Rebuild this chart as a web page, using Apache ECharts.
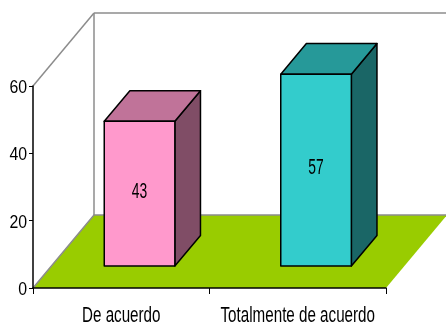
<!DOCTYPE html>
<html>
<head>
<meta charset="utf-8">
<script src="https://cdn.jsdelivr.net/npm/echarts@6/dist/echarts.min.js"></script>
<style>
  html, body { margin: 0; padding: 0; background: #fff; }
  #chart { width: 446px; height: 325px; }
</style>
</head>
<body>
<div id="chart"></div>
<script>
// Survey answers and their percentages
const categories = ['De acuerdo', 'Totalmente de acuerdo'];
const values = [43, 57];
const yTicks = [0, 20, 40, 60];

// Face colours of each box: front, top, side
const palette = [
  { front: '#FF99CC', top: '#C07399', side: '#804D66' },
  { front: '#33CCCC', top: '#269999', side: '#1A6666' }
];

const FONT = "'Liberation Sans', Arial, sans-serif";
// Condensed text styles: font size and horizontal squeeze
const TXT_AXIS = { size: 18, sx: 0.88 };
const TXT_CAT = { size: 22, sx: 0.69 };
const TXT_VAL = { size: 22, sx: 0.63 };
// Perspective offset of the back wall, in pixels
const DX = 61, DY = -73;
// Boxes sit between these fractions of the floor depth
const D0 = 0.3, D1 = 0.72;
const BAR_FRAC = 0.4;

const chart = echarts.init(document.getElementById('chart'));

function narrowText(x, y, text, align, st) {
  return {
    type: 'text',
    x: x,
    y: y,
    scaleX: st.sx,
    style: {
      text: text,
      fill: '#000',
      font: st.size + 'px ' + FONT,
      align: align,
      verticalAlign: 'middle'
    }
  };
}

function renderScene(params, api) {
  const p0 = api.coord([0, 0]);
  const pTop = api.coord([0, yTicks[yTicks.length - 1]]);
  const band = api.size([1, 0])[0];
  const xl = p0[0] - band / 2;
  const xr = p0[0] + band * (categories.length - 0.5);
  const yb = p0[1];
  const yt = pTop[1];
  const gray = { stroke: '#8C8C8C', lineWidth: 1.5 };
  const children = [
    {
      type: 'polygon',
      shape: { points: [[xl, yb], [xr, yb], [xr + DX, yb + DY], [xl + DX, yb + DY]] },
      style: { fill: '#99CC00', stroke: null }
    },
    { type: 'polyline', shape: { points: [[xl, yb], [xl + DX, yb + DY], [xr + DX, yb + DY]] }, style: Object.assign({ fill: null }, gray) },
    { type: 'line', shape: { x1: xl, y1: yt, x2: xl + DX, y2: yt + DY }, style: gray },
    { type: 'line', shape: { x1: xl + DX, y1: yt + DY, x2: xl + DX, y2: yb + DY }, style: gray },
    { type: 'line', shape: { x1: xl + DX, y1: yt + DY, x2: api.getWidth(), y2: yt + DY }, style: gray }
  ];
  // value axis labels
  yTicks.forEach(function (t) {
    const p = api.coord([0, t]);
    children.push(narrowText(xl - 6, p[1] + 2, String(t), 'right', TXT_AXIS));
  });
  // category labels
  categories.forEach(function (name, i) {
    const p = api.coord([i, 0]);
    children.push(narrowText(p[0], yb + 28, name, 'center', TXT_CAT));
  });
  return { type: 'group', children: children };
}

function renderBox(params, api) {
  const idx = api.value(0);
  const val = api.value(1);
  const base = api.coord([idx, 0]);
  const topP = api.coord([idx, val]);
  const band = api.size([1, 0])[0];
  const w = band * BAR_FRAC;
  const fx = base[0] + D0 * DX - w / 2;
  const fyB = base[1] + D0 * DY;
  const fyT = topP[1] + D0 * DY;
  const ddx = (D1 - D0) * DX, ddy = (D1 - D0) * DY;
  const c = palette[idx];
  const edge = { stroke: '#000', lineWidth: 1.5, lineJoin: 'round' };
  return {
    type: 'group',
    children: [
      {
        type: 'polygon',
        shape: { points: [[fx + w, fyT], [fx + w, fyB], [fx + w + ddx, fyB + ddy], [fx + w + ddx, fyT + ddy]] },
        style: Object.assign({ fill: c.side }, edge)
      },
      {
        type: 'polygon',
        shape: { points: [[fx, fyT], [fx + w, fyT], [fx + w + ddx, fyT + ddy], [fx + ddx, fyT + ddy]] },
        style: Object.assign({ fill: c.top }, edge)
      },
      {
        type: 'rect',
        shape: { x: fx, y: fyT, width: w, height: fyB - fyT },
        style: Object.assign({ fill: c.front }, edge)
      },
      narrowText(fx + w / 2, (fyT + fyB) / 2 - 2, String(val), 'center', TXT_VAL)
    ]
  };
}

chart.setOption({
  animation: false,
  grid: { left: 33, right: 60, top: 86, bottom: 37 },
  xAxis: {
    type: 'category',
    data: categories,
    z: 10,
    axisLine: { lineStyle: { color: '#000', width: 1.5 } },
    axisTick: { show: true, interval: 0, length: 6, lineStyle: { color: '#000', width: 1 } },
    axisLabel: { show: false }
  },
  yAxis: {
    type: 'value',
    min: yTicks[0],
    max: yTicks[yTicks.length - 1],
    interval: yTicks[1] - yTicks[0],
    z: 10,
    splitLine: { show: false },
    axisLine: { show: true, lineStyle: { color: '#000', width: 1.5 } },
    axisTick: { show: true, length: 4, lineStyle: { color: '#000', width: 1 } },
    axisLabel: { show: false }
  },
  series: [
    {
      type: 'custom',
      z: 1,
      silent: true,
      renderItem: renderScene,
      data: [[0, 0]]
    },
    {
      type: 'custom',
      z: 3,
      renderItem: renderBox,
      encode: { x: 0, y: 1 },
      data: values.map((v, i) => [i, v])
    }
  ]
});
</script>
</body>
</html>
